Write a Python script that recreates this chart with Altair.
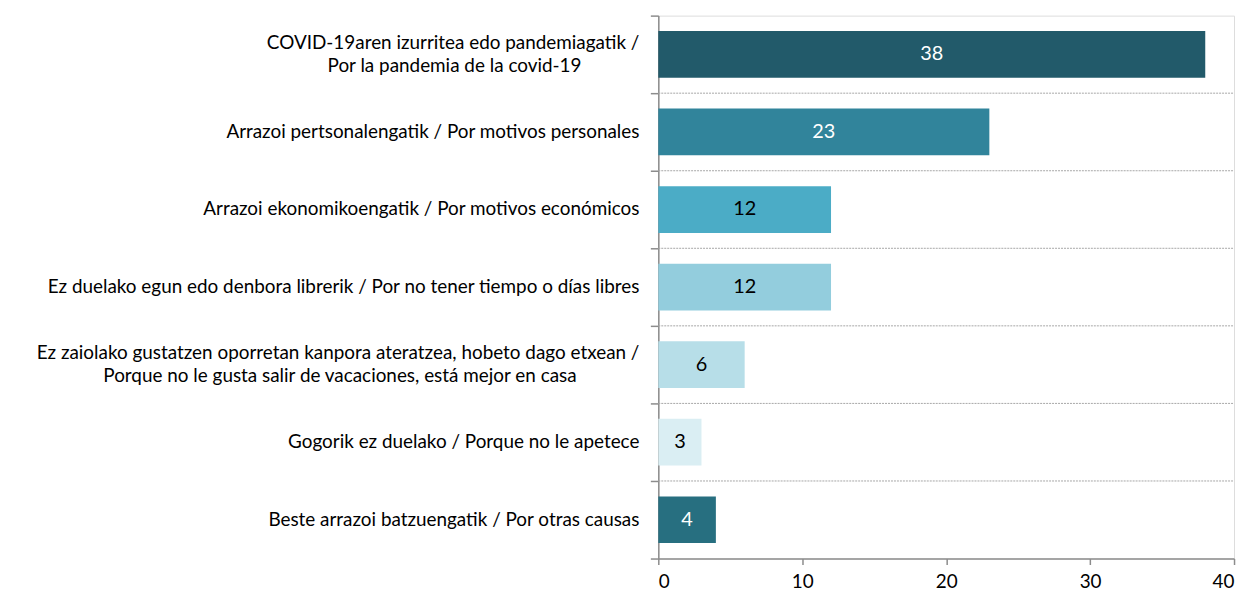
import altair as alt
import pandas as pd

NB = "\u00a0"
ZW = "\u200b"

categories = [
    "COVID-19aren izurritea edo pandemiagatik /\nPor la pandemia de la covid-19",
    "Arrazoi pertsonalengatik / Por motivos personales",
    "Arrazoi ekonomikoengatik / Por motivos económicos",
    "Ez duelako egun edo denbora librerik / Por no tener tiempo o días libres",
    "Ez zaiolako gustatzen oporretan kanpora ateratzea, hobeto dago etxean /\nPorque no le gusta salir de vacaciones, está mejor en casa",
    "Gogorik ez duelako / Porque no le apetece",
    "Beste arrazoi batzuengatik / Por otras causas",
]
values = [38, 23, 12, 12, 6, 3, 4]
colors = ["#225a6a", "#31849b", "#4bacc6", "#93cddd", "#b7dee8", "#daeef3", "#276f80"]
text_colors = ["white", "white", "black", "black", "black", "black", "white"]
# trailing no-break spaces so that the shorter second line looks centred under the first
line2_pad = [12, 0, 0, 0, 13, 0, 0]

FONT = "Lato"
FS = 19
LH = 23

W, H = 579, 546
HALF_BAND = H / len(categories) / 2

df = pd.DataFrame({"cat": categories, "value": values, "tcol": text_colors})
df["mid"] = df["value"] / 2

# one row per label line
rows = []
for c, p in zip(categories, line2_pad):
    parts = c.split("\n")
    n = len(parts)
    for i, t in enumerate(parts):
        if i > 0 and p:
            t = t + NB * p + ZW
        rows.append({"cat": c, "line": t, "off": HALF_BAND + (i - (n - 1) / 2) * LH})
lab_df = pd.DataFrame(rows)

y_scale = alt.Scale(domain=categories, paddingInner=0, paddingOuter=0)

y_enc = alt.Y(
    "cat:N",
    sort=categories,
    scale=y_scale,
    axis=alt.Axis(
        title=None,
        tickBand="extent",
        tickSize=8,
        tickColor="#8c8c8c",
        tickWidth=1.5,
        domainColor="#8c8c8c",
        domainWidth=1.5,
        labels=False,
        grid=False,
    ),
)

x_enc = alt.X(
    "value:Q",
    scale=alt.Scale(domain=[0, 40], nice=False),
    axis=alt.Axis(
        title=None,
        values=[0, 10, 20, 30, 40],
        tickSize=6,
        tickColor="#8c8c8c",
        tickWidth=1.5,
        domainColor="#8c8c8c",
        domainWidth=1.5,
        labelPadding=8,
        labelFont=FONT,
        labelFontSize=FS,
        labelColor="#000000",
        grid=False,
    ),
)

base = alt.Chart(df)

bars = base.mark_bar(size=47).encode(
    y=y_enc,
    x=x_enc,
    color=alt.Color("cat:N", scale=alt.Scale(domain=categories, range=colors), legend=None),
)

sep = base.transform_filter(
    alt.datum.cat != categories[0]
).mark_rule(color="#a6a6a6", strokeDash=[2, 1], strokeWidth=1).encode(
    y=alt.Y("cat:N", sort=categories, bandPosition=0),
    x=alt.value(0),
    x2=alt.value(W),
)

values_text = base.mark_text(font=FONT, fontSize=20, baseline="middle", align="center").encode(
    y=alt.Y("cat:N", sort=categories),
    x=alt.X("mid:Q"),
    text=alt.Text("value:Q"),
    color=alt.Color("tcol:N", scale=None),
)

cat_text = alt.Chart(lab_df).mark_text(
    font=FONT, fontSize=FS, baseline="middle", align="right", color="#000000"
).encode(
    y=alt.Y("cat:N", sort=categories),
    yOffset=alt.YOffset("off:Q", scale=None),
    x=alt.value(-19),
    text="line:N",
)

chart = alt.layer(sep, bars, values_text, cat_text).properties(
    width=W, height=H, padding={"top": 5, "left": 28, "right": 5, "bottom": 0}
).configure_view(stroke=None).configure(background="white")

chart.save("out.html", embed_options={"renderer": "svg", "actions": False})
